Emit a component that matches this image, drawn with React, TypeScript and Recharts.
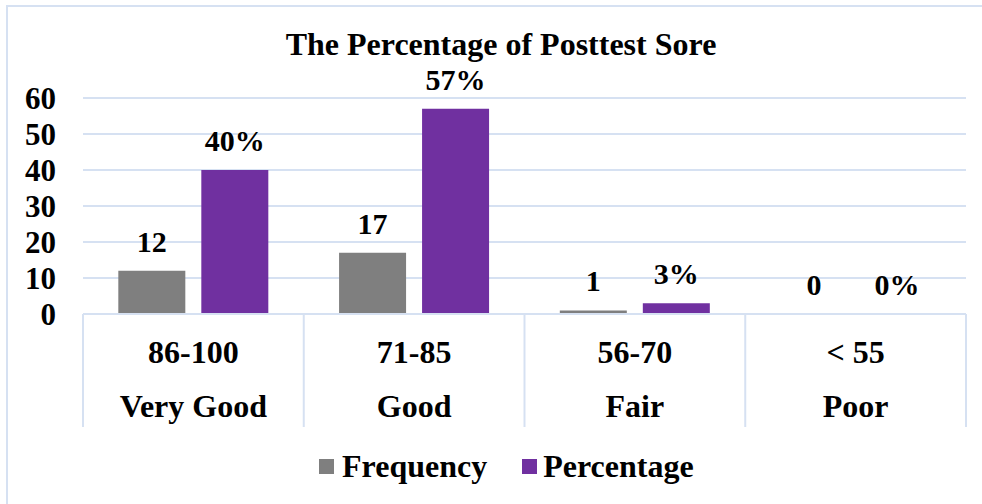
import React from "react";
import {
  BarChart,
  Bar,
  XAxis,
  YAxis,
  CartesianGrid,
  Legend,
  LabelList,
} from "recharts";

const ranges = ["86-100", "71-85", "56-70", "< 55"];
const grades = ["Very Good", "Good", "Fair", "Poor"];
const frequency = [12, 17, 1, 0];
const percentage = [40, 57, 3, 0];
const yTicks = [0, 10, 20, 30, 40, 50, 60];

const WIDTH = 982;
const HEIGHT = 504;
const Y_AXIS_W = 83;
const RIGHT = 16;
const BAND = (WIDTH - Y_AXIS_W - RIGHT) / ranges.length;
const FONT = "Liberation Serif";
const LINE = "#D6E1F2";
const GRAY = "#7F7F7F";
const PURPLE = "#7030A0";

const data = ranges.map((range, i) => ({
  range,
  grade: grades[i],
  Frequency: frequency[i],
  Percentage: percentage[i],
}));

const CategoryTick = (props: any) => {
  const { x, y, payload, index } = props;
  const half = BAND / 2;
  const i = index ?? payload.index;
  const grade = grades[i] ?? "";
  const isLast = i === ranges.length - 1;
  return (
    <g>
      <line x1={x - half} x2={x - half} y1={y} y2={y + 113} stroke={LINE} strokeWidth={2} />
      {isLast && (
        <line x1={x + half} x2={x + half} y1={y} y2={y + 113} stroke={LINE} strokeWidth={2} />
      )}
      <text x={x} y={y + 49} textAnchor="middle" fontFamily={FONT} fontWeight="bold" fontSize={32} fill="#000">
        {payload.value}
      </text>
      <text x={x} y={y + 103} textAnchor="middle" fontFamily={FONT} fontWeight="bold" fontSize={32} fill="#000">
        {grade}
      </text>
    </g>
  );
};

const makeBarLabel = (suffix: string) => (props: any) => {
  const { x, y, width, value } = props;
  if (value === undefined || value === null) return null;
  return (
    <text
      x={Number(x) + Number(width) / 2}
      y={Number(y) - 19}
      textAnchor="middle"
      fontFamily={FONT}
      fontWeight="bold"
      fontSize={30}
      fill="#000"
    >
      {`${value}${suffix}`}
    </text>
  );
};

const LegendContent = () => (
  <div style={{ display: "flex", alignItems: "center", fontFamily: FONT, fontWeight: "bold", fontSize: 32, lineHeight: "32px", color: "#000", whiteSpace: "nowrap" }}>
    <span style={{ width: 15, height: 15, background: GRAY, display: "inline-block", marginRight: 8 }} />
    <span>Frequency</span>
    <span style={{ width: 15, height: 15, background: PURPLE, display: "inline-block", marginLeft: 35, marginRight: 6 }} />
    <span>Percentage</span>
  </div>
);

export default function App() {
  return (
    <div style={{ position: "absolute", left: 0, top: 0, width: WIDTH, height: HEIGHT, background: "#fff", overflow: "hidden" }}>
      <div
        style={{
          position: "absolute",
          left: 6,
          top: 5,
          width: WIDTH,
          height: HEIGHT,
          borderLeft: `2px solid ${LINE}`,
          borderTop: `2px solid ${LINE}`,
        }}
      />
      <div
        style={{
          position: "absolute",
          left: 0,
          top: 28,
          width: 1002,
          textAlign: "center",
          fontFamily: FONT,
          fontWeight: "bold",
          fontSize: 32,
          lineHeight: "32px",
          color: "#000",
        }}
      >
        The Percentage of Posttest Sore
      </div>
      <div style={{ position: "absolute", left: 0, top: 0 }}>
        <BarChart
          width={WIDTH}
          height={HEIGHT}
          data={data}
          margin={{ top: 98, right: RIGHT, left: 0, bottom: 77 }}
          barCategoryGap="16%"
          barGap={16}
        >
          <CartesianGrid vertical={false} stroke={LINE} strokeWidth={2} />
          <XAxis
            dataKey="range"
            axisLine={{ stroke: LINE, strokeWidth: 2 }}
            tickLine={false}
            tickSize={0}
            tickMargin={0}
            height={113}
            interval={0}
            tick={<CategoryTick />}
          />
          <YAxis
            domain={[0, 60]}
            ticks={yTicks}
            interval={0}
            width={Y_AXIS_W}
            axisLine={false}
            tickLine={false}
            tickSize={0}
            tickMargin={27}
            tick={{ fontFamily: FONT, fontWeight: "bold", fontSize: 31, fill: "#000" }}
          />
          <Legend
            verticalAlign="middle"
            align="center"
            layout="horizontal"
            wrapperStyle={{ top: 450, left: 319, width: 520, height: 32 }}
            content={<LegendContent />}
          />
          <Bar dataKey="Frequency" fill={GRAY} minPointSize={0.01} isAnimationActive={false}>
            <LabelList dataKey="Frequency" content={makeBarLabel("")} />
          </Bar>
          <Bar dataKey="Percentage" fill={PURPLE} minPointSize={0.01} isAnimationActive={false}>
            <LabelList dataKey="Percentage" content={makeBarLabel("%")} />
          </Bar>
        </BarChart>
      </div>
    </div>
  );
}
